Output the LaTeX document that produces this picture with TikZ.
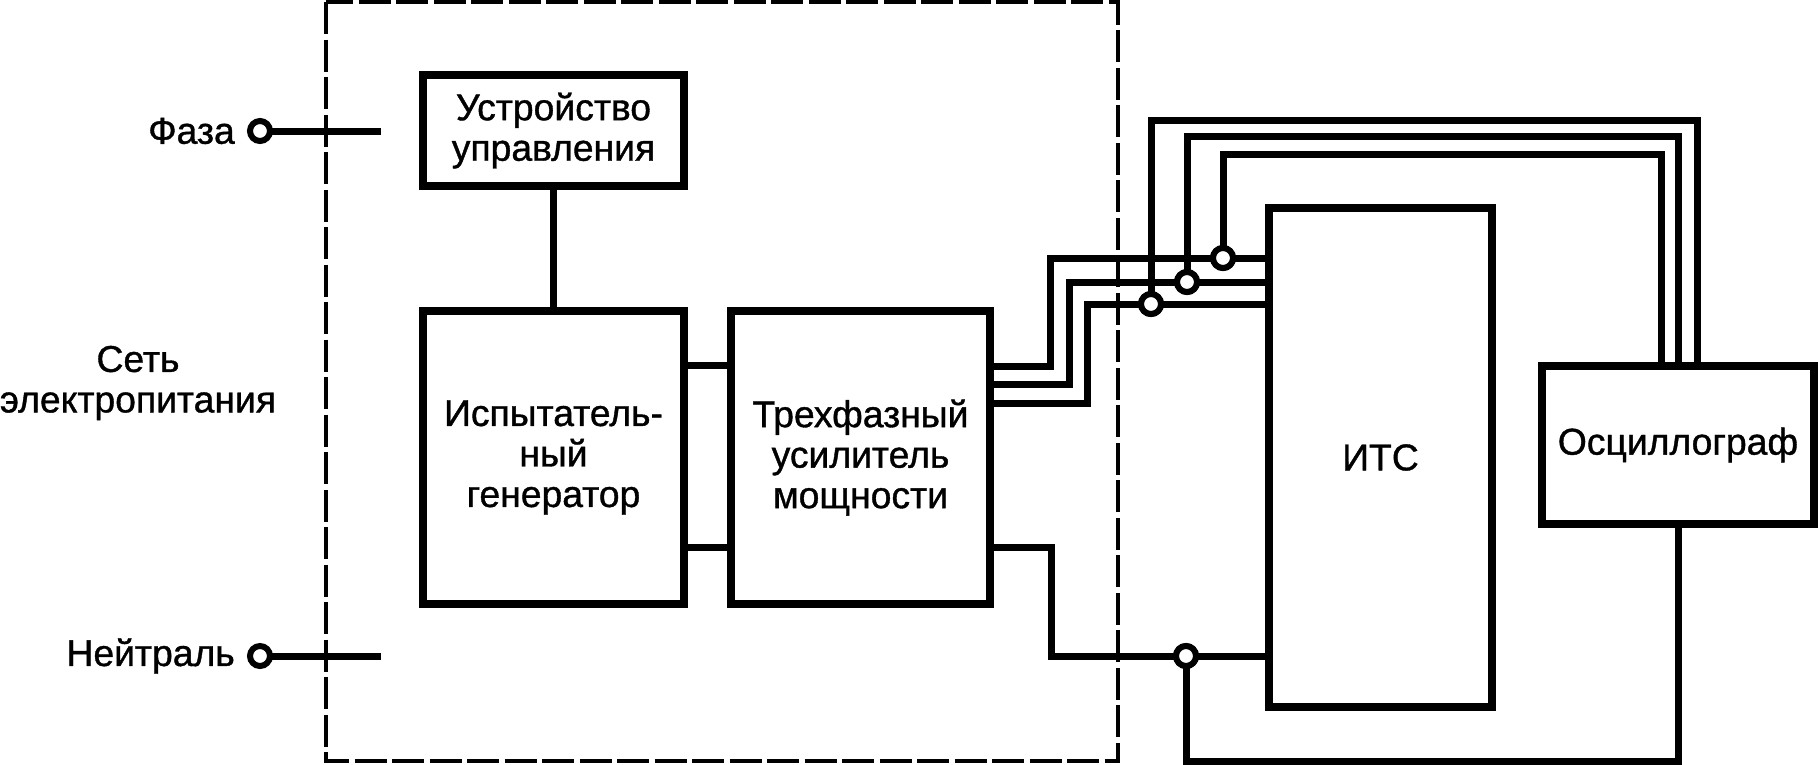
\documentclass[tikz,border=0pt]{standalone}
\usepackage{fontspec}
\setmainfont[FakeBold=1]{Liberation Sans}
\usetikzlibrary{calc}
\tikzset{
  blockbox/.style={draw,line width=7.5pt,outer sep=0pt,inner sep=0pt,align=center,font=\fontsize{37.3}{40.5}\selectfont},
  wire/.style={line width=7pt},
  junction/.style={circle,draw,fill=white,line width=6pt,minimum size=20pt,inner sep=0pt,outer sep=0pt},
  lab/.style={align=center,inner sep=0pt,font=\fontsize{37.3}{40.5}\selectfont}
}
\begin{document}
\begin{tikzpicture}[x=1pt,y=-1pt]
\useasboundingbox (0,0) rectangle (1818,764);
\draw[line width=4pt,dash pattern=on 32pt off 5.5pt] (326,2) rectangle (1118,761);
% blocks
\node[blockbox,minimum width=261pt,minimum height=111pt] (ctrl) at (553.5,130.5) {Устройство\\управления};
\node[blockbox,minimum width=261pt,minimum height=293pt] (gen) at (553.5,457.5) {Испытатель-\\ный\\генератор};
\node[blockbox,minimum width=259pt,minimum height=293pt] (amp) at (860.5,457.5) {Трехфазный\\усилитель\\мощности};
\node[blockbox,minimum width=223pt,minimum height=499pt] (its) at (1380.5,457.5) {ИТС};
\node[blockbox,minimum width=272pt,minimum height=158pt] (osc) at (1678,445) {Осциллограф};
% mains side
\node[lab] (net) at (138,383) {Сеть\\электропитания};
\node[junction] (tph) at (260,131) {};
\node[junction] (tn) at (260,656) {};
\node[lab,anchor=east] (lph) at (235,131) {Фаза};
\node[lab,anchor=east] (ln) at (235,656) {Нейтраль};
\coordinate (eph) at (381,131);
\coordinate (en) at (381,656);
\draw[wire] (tph)--(eph);
\draw[wire] (tn)--(en);
\draw[wire] (ctrl)--(gen);
\foreach \y in {365,547}{\draw[wire] (gen.east |- 0,\y)--(amp.west |- 0,\y);}
% three phases
\foreach \n/\ya/\xa/\yb/\xj/\yt/\xr in {1/366/1050/258/1223/154/1661,2/384/1069/282/1187/136/1678,3/403/1087/304/1151/120/1697}{
  \node[junction] (j\n) at (\xj,\yb) {};
  \draw[wire] (amp.east |- 0,\ya)-|(\xa,\yb)--(j\n)--(its.west |- 0,\yb);
  \draw[wire] (j\n)|-(\xr,\yt)--(osc.north -| \xr,0);
  \node[junction] at (j\n) {};
}
% neutral
\node[junction] (j4) at (1186,656) {};
\draw[wire] (amp.east |- 0,547)-|(1051,656)--(j4)--(its.west |- j4);
\draw[wire] (j4)|-(1678,761)--(osc.south);
\node[junction] at (j4) {};
\end{tikzpicture}
\end{document}
